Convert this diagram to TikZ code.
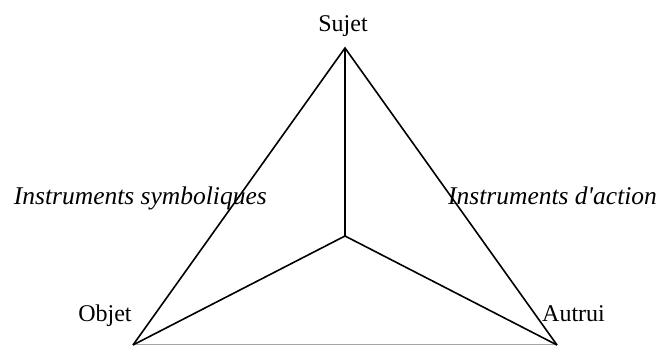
\documentclass[tikz,border=0pt]{standalone}
\usepackage{fontspec}
\setmainfont{Liberation Serif}[Ligatures=TeXOff]
\begin{document}
\begin{tikzpicture}[x=1pt,y=-1pt,
  edge/.style={line width=1.6pt, line join=miter},
  lab/.style={font=\fontsize{24}{28}\selectfont, inner sep=0pt},
  ilab/.style={font=\fontsize{25.5}{29}\selectfont\itshape, inner sep=0pt}]
\useasboundingbox (0,0) rectangle (665,347);
\coordinate (S) at (345,48);
\coordinate (C) at (345,236);
\coordinate (O) at (133,345);
\coordinate (A) at (557,345);
\draw[gray!70, line width=1pt] (O) -- (A);
\draw[edge] (O) -- (S) -- (A);
\draw[edge] (S) -- (C);
\draw[edge] (O) -- (C) -- (A);
\node[lab, anchor=base] (sujet) at (343,32) {Sujet};
\node[lab, anchor=base] (objet) at (105,322) {Objet};
\node[lab, anchor=base west] (autrui) at (542,322) {Autrui};
\node[ilab, anchor=base east] (isym) at (267,205) {Instruments symboliques};
\node[ilab, anchor=base west] (iact) at (448,205) {Instruments d'action};
\end{tikzpicture}
\end{document}
